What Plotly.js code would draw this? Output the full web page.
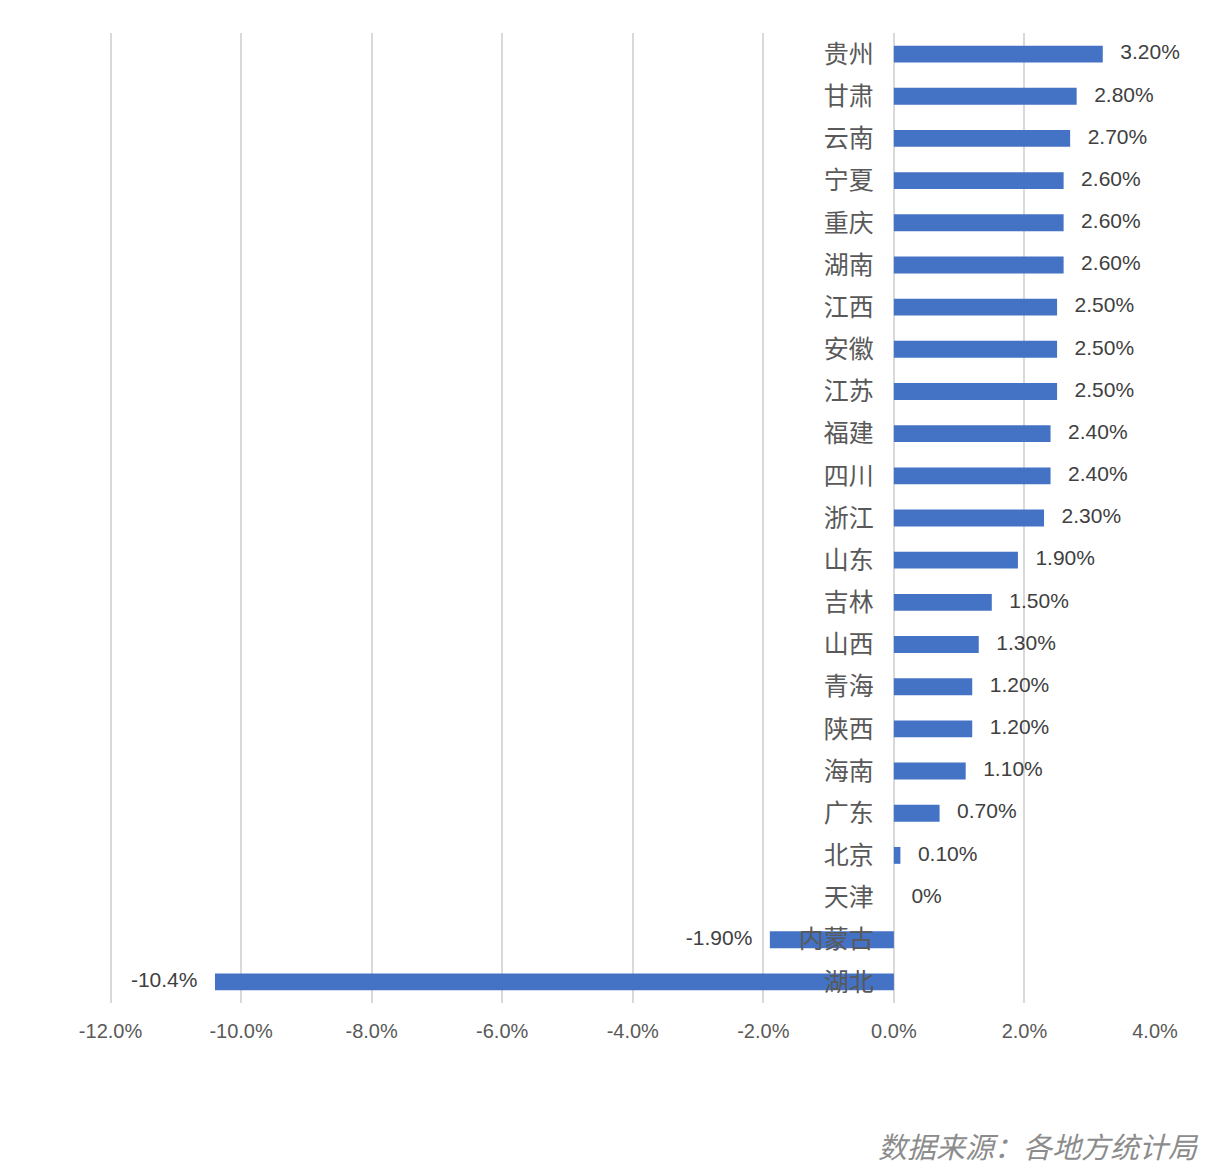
<!DOCTYPE html>
<html><head><meta charset="utf-8">
<script src="https://cdn.plot.ly/plotly-3.0.1.min.js"></script>
<style>html,body{margin:0;padding:0;background:#fff;}#chart{width:1210px;height:1176px;}</style>
</head><body><div id="chart"></div>
<script>
const provinces = ["贵州","甘肃","云南","宁夏","重庆","湖南","江西","安徽","江苏","福建","四川","浙江","山东","吉林","山西","青海","陕西","海南","广东","北京","天津","内蒙古","湖北"];
const growth = [3.2,2.8,2.7,2.6,2.6,2.6,2.5,2.5,2.5,2.4,2.4,2.3,1.9,1.5,1.3,1.2,1.2,1.1,0.7,0.1,0,-1.9,-10.4];
const valueLabels = ["3.20%","2.80%","2.70%","2.60%","2.60%","2.60%","2.50%","2.50%","2.50%","2.40%","2.40%","2.30%","1.90%","1.50%","1.30%","1.20%","1.20%","1.10%","0.70%","0.10%","0%","-1.90%","-10.4%"];
const xTickVals = [-12,-10,-8,-6,-4,-2,0,2,4];
const xTickText = ["-12.0%","-10.0%","-8.0%","-6.0%","-4.0%","-2.0%","0.0%","2.0%","4.0%"];
const sourceNote = "数据来源：各地方统计局";

const pad = "\u00a0\u00a0\u00a0";
const labelText = valueLabels.map((t,i)=> growth[i] < 0 ? t + pad : pad + t);
const labelPos = growth.map(v => v < 0 ? "middle left" : "middle right");

const traces = [
  {type:"bar", orientation:"h", x:growth, y:provinces, marker:{color:"#4472C4"}, hoverinfo:"skip"},
  {type:"scatter", mode:"text", x:growth, y:provinces, text:labelText, textposition:labelPos,
   textfont:{family:"Liberation Sans, Arial, sans-serif", size:21, color:"#404040"}, hoverinfo:"skip", cliponaxis:false}
];

const xMin = -12.1, xMax = 4;
const layout = {
  width:1210, height:1176,
  margin:{l:104, r:55, t:33, b:173},
  paper_bgcolor:"#ffffff", plot_bgcolor:"#ffffff",
  showlegend:false,
  bargap:0.6,
  font:{family:"Liberation Sans, Arial, sans-serif", color:"#595959"},
  xaxis:{range:[xMin,xMax], tickvals:xTickVals, ticktext:xTickText, showgrid:true, gridcolor:"#d9d9d9", gridwidth:2,
         zeroline:false, showline:false, ticks:"", ticklabelstandoff:14,
         tickfont:{family:"Liberation Sans, Arial, sans-serif", size:20, color:"#595959"}, fixedrange:true},
  yaxis:{type:"category", range:[22.5,-0.5], anchor:"free", position:(-xMin/(xMax-xMin)), showgrid:false, zeroline:false, showline:false,
         ticks:"", ticklabelstandoff:20, tickfont:{family:"Noto Sans CJK SC, sans-serif", size:25, color:"#595959"}, fixedrange:true},
  annotations:[{text:sourceNote, xref:"paper", yref:"paper", x:1, y:-0.1464, xanchor:"right", yanchor:"middle", xshift:46,
    showarrow:false, font:{family:"Noto Sans CJK SC, sans-serif", size:29, color:"#8c8c8c", style:"italic"}}]
};
Plotly.newPlot("chart", traces, layout, {staticPlot:true});
</script></body></html>
